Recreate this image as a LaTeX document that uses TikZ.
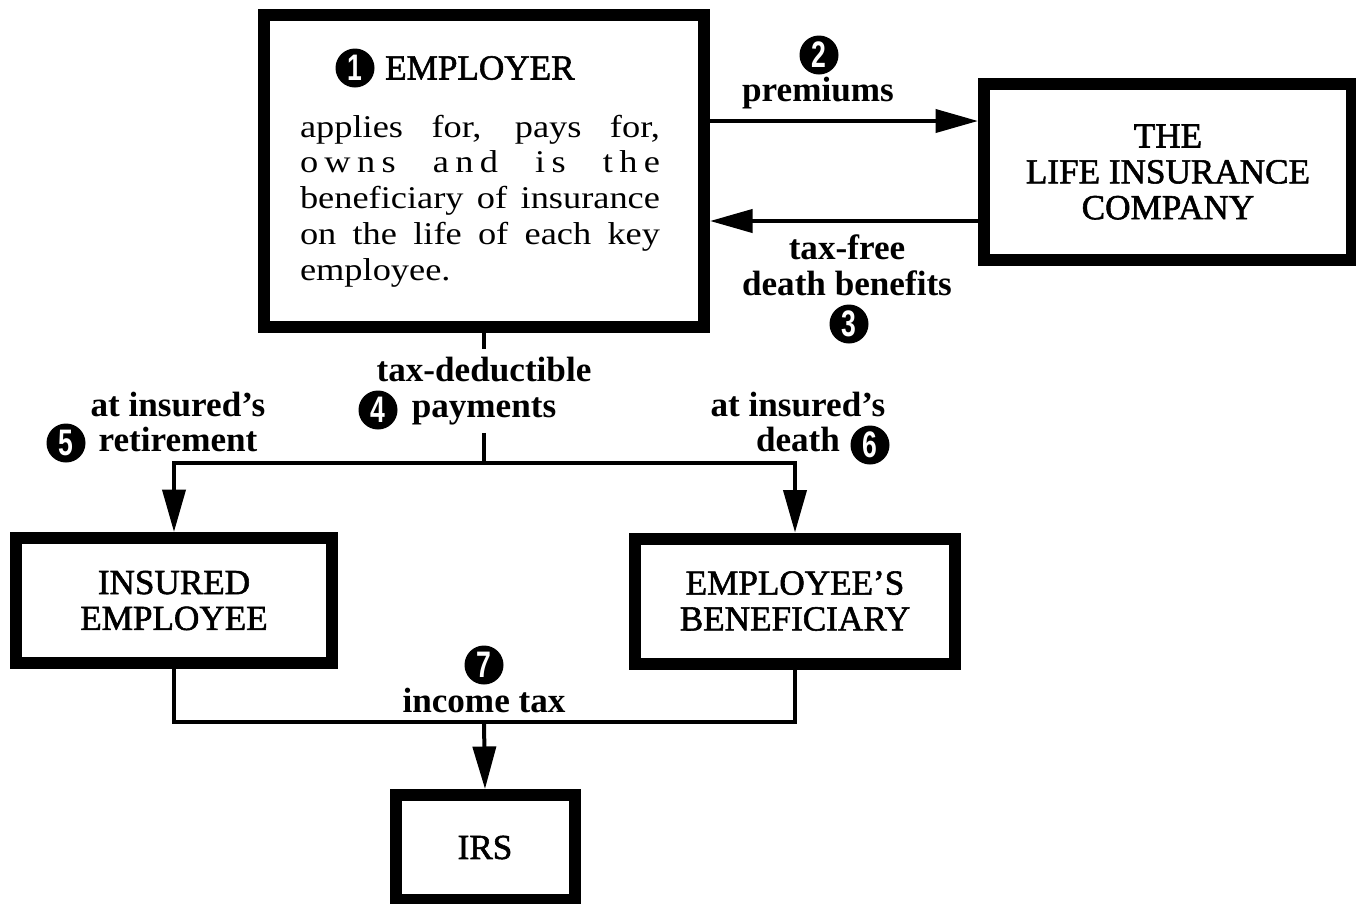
\documentclass[tikz,border=0pt]{standalone}
\usepackage{fontspec}
\setmainfont{Liberation Serif}
\newfontfamily\boxfont[FakeBold=1.6]{Liberation Serif}
\newfontfamily\bodyfont[FakeStretch=1.15]{Liberation Serif}
\newfontfamily\numfont[FakeStretch=0.72]{Liberation Sans}
\usetikzlibrary{arrows.meta,positioning}
\tikzset{
  box/.style={draw,line width=0.24cm,outer sep=auto,inner sep=0pt,align=center,font=\boxfont\fontsize{20}{20.4}\selectfont},
  ttl/.style={inner sep=0pt,font=\boxfont\fontsize{20}{20.4}\selectfont},
  lbl/.style={align=center,inner sep=0pt,font=\fontsize{20}{20.4}\selectfont\bfseries},
  badge/.style={circle,fill=black,text=white,minimum size=0.78cm,inner sep=0pt,font=\numfont\fontsize{21}{21}\selectfont\bfseries},
  link/.style={line width=0.08cm},
  flow/.style={link,-{Triangle[length=0.85cm,width=0.46cm]}}
}

\begin{document}
\begin{tikzpicture}
\useasboundingbox (0,0) rectangle (27.12,-18.06);
\fill[white] (0,0) rectangle (27.12,-18.06);
% boxes
\node[box,minimum width=8.8cm,minimum height=6.24cm] (emp) at (9.68,-3.42) {};
\node[box,minimum width=7.36cm,minimum height=3.52cm] (life) at (23.36,-3.44) {THE\\LIFE INSURANCE\\COMPANY};
\node[box,minimum width=6.3cm,minimum height=2.5cm] (insured) at (3.48,-12.01) {INSURED\\EMPLOYEE};
\node[box,minimum width=6.4cm,minimum height=2.5cm] (benef) at (15.9,-12.02) {EMPLOYEE’S\\BENEFICIARY};
\node[box,minimum width=3.58cm,minimum height=2.1cm] (irs) at (9.7,-16.95) {IRS};
% inside the employer box
\node[badge] (n1) at (7.1,-1.36) {1};
\node[ttl,right=0.2cm of n1] (empname) {EMPLOYER};
\node[text width=7.2cm,align=justify,inner sep=0pt,font=\bodyfont\fontsize{18}{20.4}\selectfont] (desc) at (9.6,-4.02)
  {applies for, pays for,\linebreak {\addfontfeature{LetterSpace=20}owns and is the}\linebreak beneficiary of insurance\linebreak on the life of each key\linebreak employee.};
% labels
\node[badge] (n2) at (16.38,-1.10) {2};
\node[lbl] (prem) at (16.36,-1.86) {premiums};
\node[lbl] (dben) at (16.94,-5.30) {tax-free\\death benefits};
\node[badge] (n3) at (16.98,-6.48) {3};
\node[lbl,inner ysep=0.15cm] (ded) at (9.68,-7.82) {tax-deductible\\payments};
\node[badge] (n4) at (7.56,-8.20) {4};
\node[lbl] (retire) at (3.56,-8.44) {at insured’s\\retirement};
\node[badge] (n5) at (1.32,-8.86) {5};
\node[lbl] (death) at (15.96,-8.44) {at insured’s\\death};
\node[badge] (n6) at (17.4,-8.90) {6};
\node[badge] (n7) at (9.68,-13.30) {7};
\node[lbl] (tax) at (9.68,-14.0) {income tax};
% connectors
\coordinate (pa) at ([yshift=1cm]emp.east);
\coordinate (pb) at ([yshift=-1cm]emp.east);
\draw[flow] (pa) -- (pa -| life.west);
\draw[flow] (pb -| life.west) -- (pb);
\coordinate (split) at (ded.south |- 0,-9.26);
\draw[link] (emp.south) -- (ded.north);
\draw[link] (ded.south) -- (split);
\draw[flow] (split) -| (insured.north);
\draw[flow] (split) -| (benef.north);
\coordinate (merge) at (ded.south |- 0,-14.44);
\draw[link] (insured.south) |- (merge) -| (benef.south);
\draw[flow] (merge) -- (irs.north);
\end{tikzpicture}
\end{document}
